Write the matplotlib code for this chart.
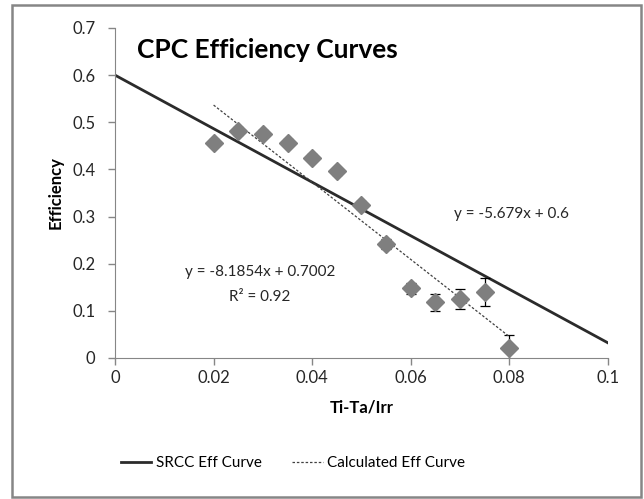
import numpy as np
import matplotlib.pyplot as plt
from matplotlib.patches import Rectangle

x_vals = [0.02, 0.025, 0.03, 0.035, 0.04, 0.045, 0.05, 0.055, 0.06, 0.065, 0.07, 0.075, 0.08]
eff_vals = [0.457, 0.481, 0.476, 0.457, 0.425, 0.396, 0.325, 0.242, 0.148, 0.118, 0.125, 0.140, 0.022]
err_vals = [0.008, 0.008, 0.008, 0.008, 0.008, 0.008, 0.008, 0.010, 0.012, 0.018, 0.021, 0.030, 0.027]

# SRCC line and the fitted trendline (values from the labels)
srcc_slope, srcc_icpt = -5.679, 0.6
fit_slope, fit_icpt = -8.1854, 0.7002
r2 = 0.92

plt.rcParams['font.family'] = ['Lato', 'DejaVu Sans']

fig = plt.figure(figsize=(6.44, 4.99), dpi=100)
ax = fig.add_axes([0.1786, 0.2826, 0.7654, 0.6613])

# SRCC efficiency curve over full axis
xs = np.array([0.0, 0.1])
ax.plot(xs, srcc_slope * xs + srcc_icpt, color='#2b2b2b', lw=2.0,
        label='SRCC Eff Curve', zorder=2)

# linear trendline over data range
xf = np.array([min(x_vals), max(x_vals)])
ax.plot(xf, fit_slope * xf + fit_icpt, color='#404040', lw=0.9,
        ls=(0, (2, 1.5)), label='Calculated Eff Curve', zorder=4)

ax.errorbar(x_vals, eff_vals, yerr=err_vals, fmt='none', ecolor='black',
            elinewidth=0.9, capsize=3.5, capthick=0.9, zorder=3)
ax.plot(x_vals, eff_vals, ls='none', marker='D', ms=9.5, color='#7f7f7f',
        mec='#7f7f7f', zorder=5)

ax.set_xlim(0, 0.1)
ax.set_ylim(0, 0.7)
ax.set_xticks([0, 0.02, 0.04, 0.06, 0.08, 0.1])
ax.set_xticklabels(['0', '0.02', '0.04', '0.06', '0.08', '0.1'])
ax.set_yticks(np.arange(0, 0.71, 0.1))
ax.set_yticklabels(['0', '0.1', '0.2', '0.3', '0.4', '0.5', '0.6', '0.7'])

for s in ['top', 'right']:
    ax.spines[s].set_visible(False)
for s in ['left', 'bottom']:
    ax.spines[s].set_color('#868686')
ax.tick_params(colors='#868686', labelcolor='#262626', labelsize=12, length=5, width=1)
ax.tick_params(axis='y', pad=9)

ax.set_xlabel('Ti-Ta/Irr', fontsize=12, fontweight='bold', labelpad=10)
ax.set_ylabel('Efficiency', fontsize=12, fontweight='bold', labelpad=6)

ax.text(0.031, 0.654, 'CPC Efficiency Curves', fontsize=19, fontweight='bold',
        ha='center', va='center', color='black')

ax.text(0.0805, 0.305, 'y = -5.679x + 0.6', fontsize=11, ha='center', va='center', color='#262626')
ax.text(0.0294, 0.183, 'y = -8.1854x + 0.7002', fontsize=11, ha='center', va='center', color='#262626')
ax.text(0.0294, 0.130, 'R² = 0.92', fontsize=11, ha='center', va='center', color='#262626')

fig.legend(loc='center', bbox_to_anchor=(0.455, 0.072), ncol=2, frameon=False,
           fontsize=11, handlelength=2.0, handletextpad=0.3, columnspacing=2.0)

# outer chart border
fig.patches.append(Rectangle((0.019, 0.004), 0.976, 0.986, transform=fig.transFigure,
                             fill=False, edgecolor='#868686', lw=1.8))

fig.savefig('out.png', dpi=100)
